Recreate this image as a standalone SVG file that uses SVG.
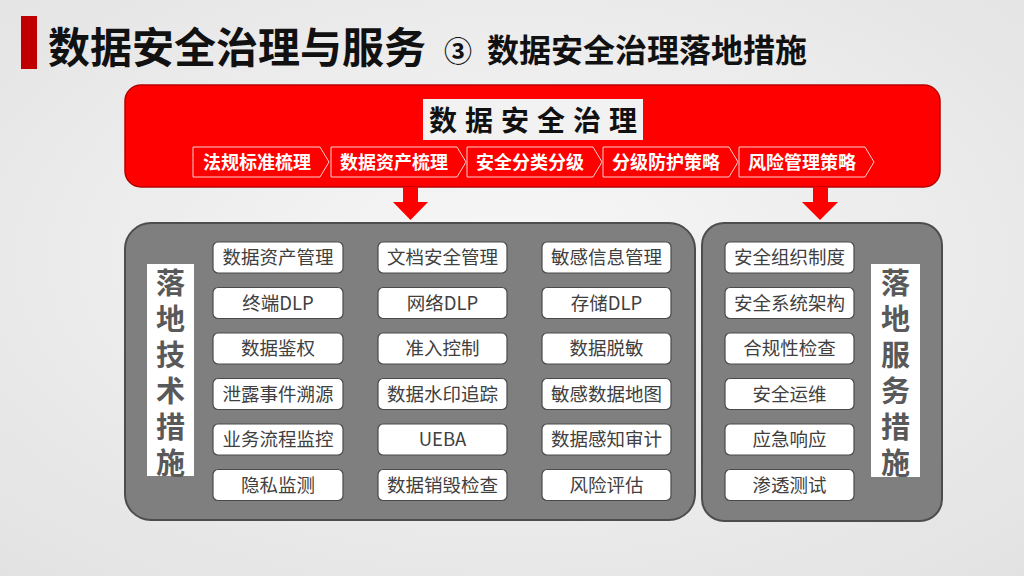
<svg xmlns="http://www.w3.org/2000/svg" width="1024" height="576" viewBox="0 0 1024 576">
<defs>
<radialGradient id="bg" cx="50%" cy="45%" r="75%">
<stop offset="0" stop-color="#f7f7f7"/>
<stop offset="1" stop-color="#e2e2e2"/>
</radialGradient>
<style>
text{font-family:"Noto Sans CJK SC","Liberation Sans",sans-serif}
.title{font-weight:700;fill:#111}
.chev{fill:none;stroke:#ffd0d0;stroke-width:1}
.chevt{font-size:18px;font-weight:700;fill:#fff;text-anchor:middle}
.panel{fill:#7f7f7f;stroke:#4d4d4d;stroke-width:2}
.box{fill:#fff;stroke:#4a4a4a;stroke-width:1.2}
.bt{font-size:18.5px;fill:#404040;text-anchor:middle}
.vl{fill:#fff}
.vt{font-size:29px;font-weight:700;fill:#595959;writing-mode:vertical-rl;letter-spacing:7px}
.arrow{fill:#ff0000}
</style>
</defs>
<rect width="1024" height="576" fill="url(#bg)"/>
<g id="header">
<rect x="21" y="16" width="16" height="53" fill="#c00000"/>
<text class="title" x="48" y="63" font-size="42">数据安全治理与服务</text>
<text class="title" x="444" y="62" font-size="28">③</text>
<text class="title" x="487" y="62" font-size="32">数据安全治理落地措施</text>
</g>
<g id="governance">
<rect x="125" y="85" width="815" height="102" rx="16" fill="#ff0000" stroke="#b80000" stroke-width="1.5"/>
<rect x="423" y="99" width="220" height="41" fill="#f2f2f2"/>
<text x="537" y="131" font-size="28" font-weight="700" fill="#111" text-anchor="middle" letter-spacing="8">数据安全治理</text>
</g>
<g id="steps">
<g id="step1"><path class="chev" d="M193,147H320L329,162L320,177H193Z"/><text class="chevt" x="257" y="169">法规标准梳理</text></g>
<g id="step2"><path class="chev" d="M331,147H457L466,162L457,177H331Z"/><text class="chevt" x="394" y="169">数据资产梳理</text></g>
<g id="step3"><path class="chev" d="M467,147H593L602,162L593,177H467Z"/><text class="chevt" x="530" y="169">安全分类分级</text></g>
<g id="step4"><path class="chev" d="M603,147H729L738,162L729,177H603Z"/><text class="chevt" x="666" y="169">分级防护策略</text></g>
<g id="step5"><path class="chev" d="M739,147H865L874,162L865,177H739Z"/><text class="chevt" x="802" y="169">风险管理策略</text></g>
</g>
<g id="connectors">
<path class="arrow" d="M403,187H418V202H428L410.5,220L393,202H403Z"/>
<path class="arrow" d="M813,187H828V202H838L820,220L802,202H813Z"/>
</g>
<g id="tech">
<rect class="panel" x="125" y="223" width="570" height="297" rx="26"/>
<rect class="vl" x="147" y="264" width="47" height="212"/>
<text class="vt" x="170.5" y="268">落地技术措施</text>
<g id="t1"><rect class="box" x="213" y="242" width="130" height="31" rx="5"/><text class="bt" x="278" y="264">数据资产管理</text></g>
<g id="t2"><rect class="box" x="213" y="287.5" width="130" height="31" rx="5"/><text class="bt" x="278" y="309.5">终端DLP</text></g>
<g id="t3"><rect class="box" x="213" y="333" width="130" height="31" rx="5"/><text class="bt" x="278" y="355">数据鉴权</text></g>
<g id="t4"><rect class="box" x="213" y="378.5" width="130" height="31" rx="5"/><text class="bt" x="278" y="400.5">泄露事件溯源</text></g>
<g id="t5"><rect class="box" x="213" y="424" width="130" height="31" rx="5"/><text class="bt" x="278" y="446">业务流程监控</text></g>
<g id="t6"><rect class="box" x="213" y="469.5" width="130" height="31" rx="5"/><text class="bt" x="278" y="491.5">隐私监测</text></g>
<g id="t7"><rect class="box" x="378" y="242" width="129" height="31" rx="5"/><text class="bt" x="442.5" y="264">文档安全管理</text></g>
<g id="t8"><rect class="box" x="378" y="287.5" width="129" height="31" rx="5"/><text class="bt" x="442.5" y="309.5">网络DLP</text></g>
<g id="t9"><rect class="box" x="378" y="333" width="129" height="31" rx="5"/><text class="bt" x="442.5" y="355">准入控制</text></g>
<g id="t10"><rect class="box" x="378" y="378.5" width="129" height="31" rx="5"/><text class="bt" x="442.5" y="400.5">数据水印追踪</text></g>
<g id="t11"><rect class="box" x="378" y="424" width="129" height="31" rx="5"/><text class="bt" x="442.5" y="446">UEBA</text></g>
<g id="t12"><rect class="box" x="378" y="469.5" width="129" height="31" rx="5"/><text class="bt" x="442.5" y="491.5">数据销毁检查</text></g>
<g id="t13"><rect class="box" x="542" y="242" width="129" height="31" rx="5"/><text class="bt" x="606.5" y="264">敏感信息管理</text></g>
<g id="t14"><rect class="box" x="542" y="287.5" width="129" height="31" rx="5"/><text class="bt" x="606.5" y="309.5">存储DLP</text></g>
<g id="t15"><rect class="box" x="542" y="333" width="129" height="31" rx="5"/><text class="bt" x="606.5" y="355">数据脱敏</text></g>
<g id="t16"><rect class="box" x="542" y="378.5" width="129" height="31" rx="5"/><text class="bt" x="606.5" y="400.5">敏感数据地图</text></g>
<g id="t17"><rect class="box" x="542" y="424" width="129" height="31" rx="5"/><text class="bt" x="606.5" y="446">数据感知审计</text></g>
<g id="t18"><rect class="box" x="542" y="469.5" width="129" height="31" rx="5"/><text class="bt" x="606.5" y="491.5">风险评估</text></g>
</g>
<g id="service">
<rect class="panel" x="702" y="223" width="240" height="298" rx="22"/>
<rect class="vl" x="871" y="264" width="49" height="213"/>
<text class="vt" x="895.5" y="268">落地服务措施</text>
<g id="s1"><rect class="box" x="725" y="242" width="129" height="31" rx="5"/><text class="bt" x="789.5" y="264">安全组织制度</text></g>
<g id="s2"><rect class="box" x="725" y="287.5" width="129" height="31" rx="5"/><text class="bt" x="789.5" y="309.5">安全系统架构</text></g>
<g id="s3"><rect class="box" x="725" y="333" width="129" height="31" rx="5"/><text class="bt" x="789.5" y="355">合规性检查</text></g>
<g id="s4"><rect class="box" x="725" y="378.5" width="129" height="31" rx="5"/><text class="bt" x="789.5" y="400.5">安全运维</text></g>
<g id="s5"><rect class="box" x="725" y="424" width="129" height="31" rx="5"/><text class="bt" x="789.5" y="446">应急响应</text></g>
<g id="s6"><rect class="box" x="725" y="469.5" width="129" height="31" rx="5"/><text class="bt" x="789.5" y="491.5">渗透测试</text></g>
</g>
</svg>
